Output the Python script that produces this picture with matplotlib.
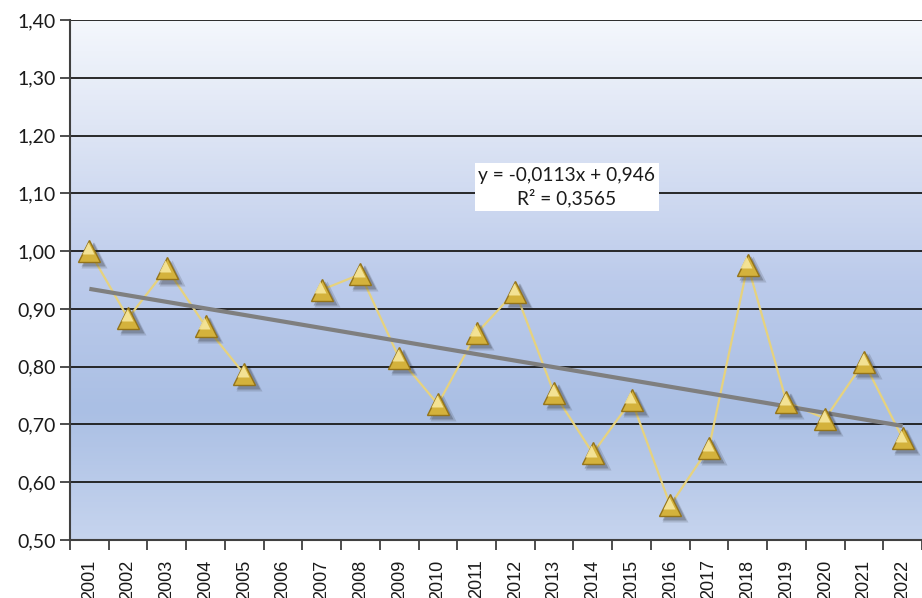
import numpy as np
import matplotlib
matplotlib.use("Agg")
import matplotlib.pyplot as plt
import matplotlib.transforms as mtransforms
from matplotlib.colors import LinearSegmentedColormap

years = ["2001", "2002", "2003", "2004", "2005", "2006", "2007", "2008", "2009", "2010", "2011",
         "2012", "2013", "2014", "2015", "2016", "2017", "2018", "2019", "2020", "2021", "2022"]
values = [1.00, 0.884, 0.97, 0.87, 0.787, None, 0.933, 0.96, 0.815, 0.735, 0.858,
          0.93, 0.754, 0.65, 0.742, 0.56, 0.66, 0.976, 0.739, 0.71, 0.808, 0.676]
trend_slope = -0.0113
trend_intercept = 0.946
trend_label = "y = -0,0113x + 0,946\nR² = 0,3565"
y_ticks = [0.5, 0.6, 0.7, 0.8, 0.9, 1.0, 1.1, 1.2, 1.3, 1.4]

fig = plt.figure(figsize=(9.22, 5.98), dpi=100)
ax = fig.add_axes([70 / 922, 58 / 598, 852 / 922, 520 / 598])

n = len(years)
x = np.arange(n)
y = np.array([np.nan if v is None else v for v in values], dtype=float)

# background gradient of the plot area
bg = LinearSegmentedColormap.from_list(
    "bg", [(0.0, "#c6d4ee"), (0.25, "#aabfe4"), (0.5, "#bccbeb"), (0.8, "#dfe6f5"), (1.0, "#f4f7fc")])
grad = np.linspace(0, 1, 256).reshape(-1, 1)
ax.imshow(grad, cmap=bg, aspect="auto", origin="lower",
          extent=[-0.5, n - 0.5, 0.5, 1.4], zorder=0)

ax.set_xlim(-0.5, n - 0.5)
ax.set_ylim(0.5, 1.4)

# horizontal grid
for t in y_ticks[1:]:
    ax.axhline(t, color="#1a1a1a", lw=1.3, zorder=1)

# series line (broken at the missing year)
ax.plot(x, y, color="#e6d27e", lw=1.6, zorder=3)

# linear trend
tx = np.array([0, n - 1])
ax.plot(tx, trend_slope * (tx + 1) + trend_intercept, color="#7f7f7f", lw=3, zorder=4,
        solid_capstyle="butt")

# triangle markers with a soft drop shadow
for dx, dy, a, ms in [(3.5, -3.0, 0.15, 19), (2.5, -2.2, 0.25, 17)]:
    shadow = mtransforms.offset_copy(ax.transData, fig=fig, x=dx, y=dy, units="points")
    ax.plot(x, y, ls="none", marker="^", ms=ms, color="#202020", alpha=a, mec="none",
            transform=shadow, zorder=5)
ax.plot(x, y, ls="none", marker="^", ms=16.5, mfc="#d4b23c", mec="#94741a", mew=1.0, zorder=6)
hl = mtransforms.offset_copy(ax.transData, fig=fig, x=-1.0, y=2.0, units="points")
ax.plot(x, y, ls="none", marker="^", ms=8, mfc="#f7e89e", mec="none", alpha=0.9,
        transform=hl, zorder=7)

# trend equation
ax.text(12.33, 1.111, trend_label, ha="center", va="center", fontsize=13.8,
        family=["Lato", "DejaVu Sans"], color="#1a1a1a", linespacing=1.3, zorder=8,
        bbox=dict(boxstyle="square,pad=0.2", fc="white", ec="none"))

# axes styling
for s in ["top", "right"]:
    ax.spines[s].set_visible(False)
for s in ["left", "bottom"]:
    ax.spines[s].set_color("#404040")
    ax.spines[s].set_linewidth(1.5)

ax.set_yticks(y_ticks)
ax.set_yticklabels([f"{t:.2f}".replace(".", ",") for t in y_ticks],
                   fontsize=14, family=["Lato", "DejaVu Sans"], color="#1a1a1a")
ax.tick_params(axis="y", length=7, width=1.3, color="#404040", pad=3)

ax.set_xticks(np.arange(-0.5, n + 0.5, 1.0), minor=False)
ax.set_xticklabels([])
ax.set_xticks(x, minor=True)
ax.set_xticklabels(years, minor=True, rotation=90, fontsize=13,
                   family=["Liberation Sans", "DejaVu Sans"], color="#1a1a1a")
ax.tick_params(axis="x", which="major", length=7, width=1.3, color="#404040")
ax.tick_params(axis="x", which="minor", length=0, pad=14)

fig.savefig("out.png", dpi=100)
